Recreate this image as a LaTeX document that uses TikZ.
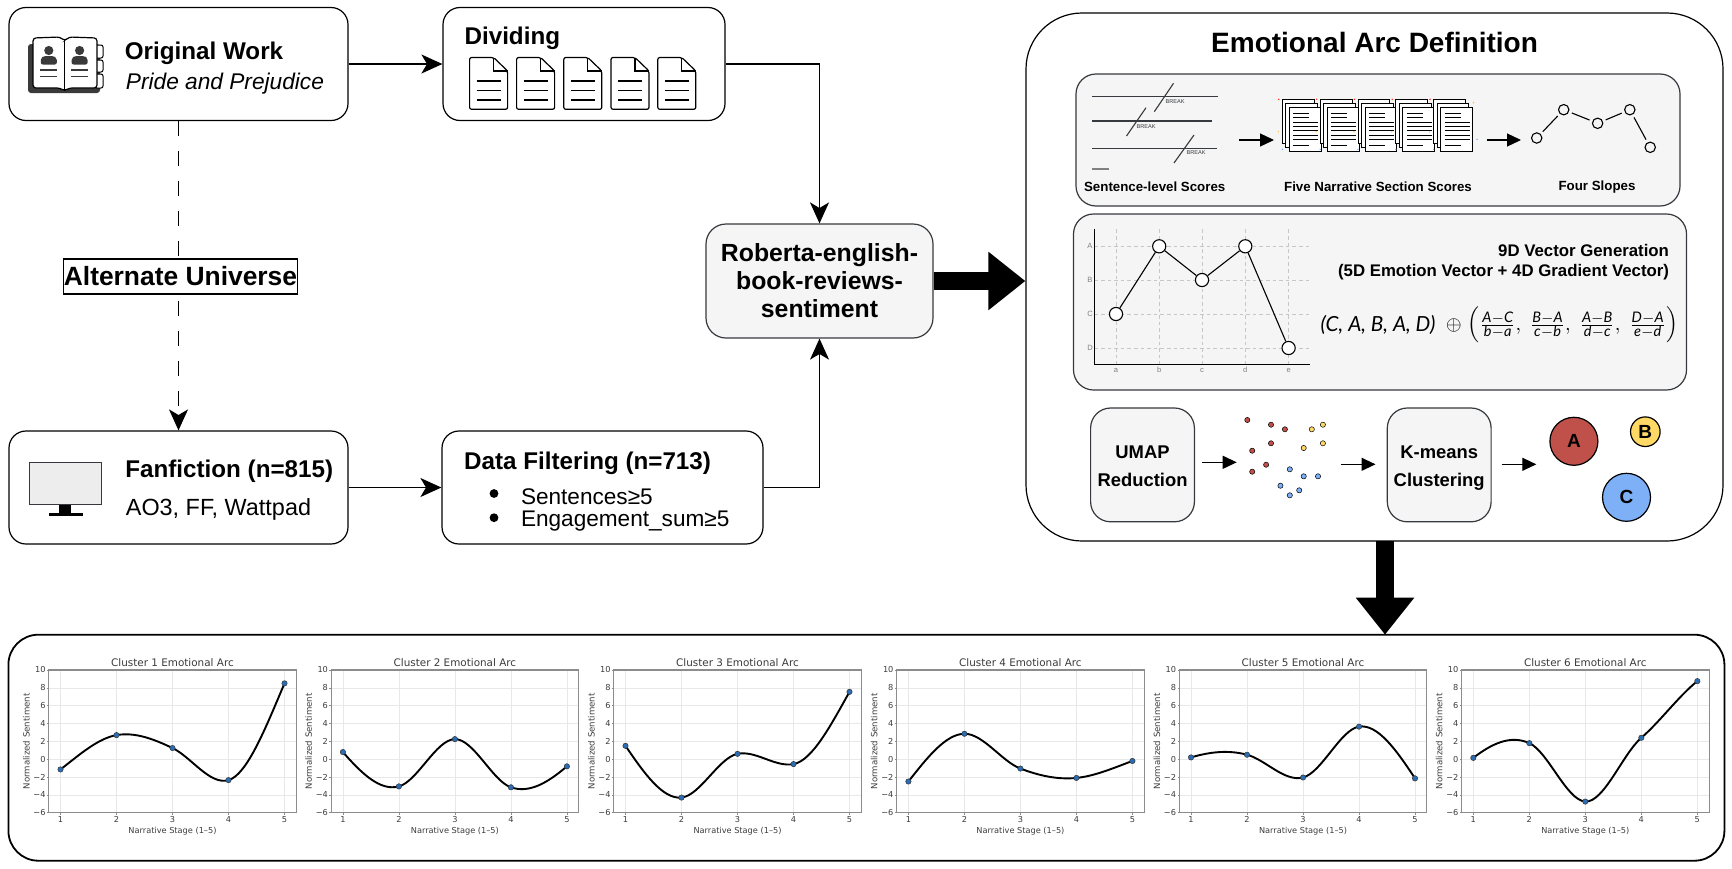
\documentclass[tikz,border=0pt]{standalone}
\usepackage{amsmath}
\usepackage{fontspec}
\usepackage{xcolor}
\usetikzlibrary{arrows.meta,positioning}
\setmainfont{Liberation Sans}
\newfontfamily\plotfont{DejaVu Sans}
\newfontfamily\formulafont{Lato}
\definecolor{boxfill}{HTML}{F5F5F5}
\definecolor{boxstroke}{HTML}{36393D}
\definecolor{icondark}{HTML}{3A3A3A}
\definecolor{spine}{HTML}{8C8C8C}
\definecolor{gridline}{HTML}{E8E8E8}
\definecolor{plottxt}{HTML}{3C3C3C}
\definecolor{markblue}{HTML}{2A6DB5}
\definecolor{clusterA}{HTML}{C0504A}
\definecolor{clusterB}{HTML}{FFD966}
\definecolor{clusterC}{HTML}{7EB0F8}
\newcommand{\fs}[1]{\fontsize{#1}{1.16\dimexpr#1pt\relax}\selectfont}
\newcommand{\mv}[1]{\text{\formulafont\itshape #1}}

% one small plot: number, x of stage 1, values at the five stages
\newcommand{\arcpanel}[7]{
  \pgfmathsetmacro{\ea}{1.5*((#4)-(#3))}
  \pgfmathsetmacro{\eb}{(3*((#5)-(#3))-\ea)/3.5}
  \pgfmathsetmacro{\ec}{(3*((#6)-(#4))-\eb)*0.269231}
  \pgfmathsetmacro{\ed}{(3*((#7)-(#5))-\ec)*0.268041}
  \pgfmathsetmacro{\tge}{(3*((#7)-(#6))-\ed)/1.731959}
  \pgfmathsetmacro{\tgd}{\ed-0.268041*\tge}
  \pgfmathsetmacro{\tgc}{\ec-0.269231*\tgd}
  \pgfmathsetmacro{\tgb}{\eb-0.285714*\tgc}
  \pgfmathsetmacro{\tga}{\ea-0.5*\tgb}
  % flatter through the inner stages
  \pgfmathsetmacro{\tgb}{0.6*\tgb}
  \pgfmathsetmacro{\tgc}{0.6*\tgc}
  \pgfmathsetmacro{\tgd}{0.6*\tgd}
  \begin{scope}[shift={(#2-56,759.18)}, x=28pt, y=4.46pt]
    \foreach \s in {1,...,5} {
      \draw[gridln] (\s,-6) -- (\s,10);
      \draw[tickln] (\s,-6) -- (\s,-6.25);
      \node[ticktxt] (xt#1\s) at (\s,-6.75) {\s};
    }
    \foreach \v/\t in {-6/−6,-4/−4,-2/−2,0/0,2/2,4/4,6/6,8/8,10/10} {
      \draw[gridln] (0.79,\v) -- (5.21,\v);
      \draw[tickln] (0.79,\v) -- (0.76,\v);
      \node[ticktxt, anchor=east] (yt#1\t) at (0.74,\v) {\t};
    }
    \draw[spineln] (0.79,-6) rectangle (5.21,10);
    \node[plottitle] (title#1) at (3,10.86) {Cluster #1 Emotional Arc};
    \node[axistxt, font=\plotfont\fs{4.1}] (xlab#1) at (3,-8.05) {Narrative Stage (1–5)};
    \node[axistxt, rotate=90] (ylab#1) at (0.39,2) {Normalized Sentiment};
    \draw[arcline] (1,#3)
      .. controls ({1+1/3},{(#3)+\tga/3}) and ({2-1/3},{(#4)-\tgb/3}) .. (2,#4)
      .. controls ({2+1/3},{(#4)+\tgb/3}) and ({3-1/3},{(#5)-\tgc/3}) .. (3,#5)
      .. controls ({3+1/3},{(#5)+\tgc/3}) and ({4-1/3},{(#6)-\tgd/3}) .. (4,#6)
      .. controls ({4+1/3},{(#6)+\tgd/3}) and ({5-1/3},{(#7)-\tge/3}) .. (5,#7);
    \foreach \s/\v in {1/#3,2/#4,3/#5,4/#6,5/#7}
      \draw[arcdot] (\s,\v) circle (1.35pt);
  \end{scope}
}

\begin{document}
\begin{tikzpicture}[
  x=0.5pt, y=-0.5pt,
  box/.style={draw=black, line width=0.6pt, rounded corners=8.5pt, fill=white},
  greybox/.style={draw=boxstroke, line width=0.6pt, rounded corners=10pt, fill=boxfill},
  headtxt/.style={font=\bfseries\fs{12.1}, inner sep=0pt, anchor=west},
  plaintxt/.style={font=\fs{11.7}, inner sep=0pt, anchor=west},
  stagetxt/.style={font=\bfseries\fs{9.2}, inner sep=0pt, align=center, yshift=-2.2pt},
  captxt/.style={font=\bfseries\fs{6.65}, inner sep=0pt},
  breaktxt/.style={font=\fs{2.8}, inner sep=0pt, text=boxstroke},
  chartlab/.style={font=\fs{3.8}, inner sep=0pt, text=gray},
  levelgrid/.style={draw=black!22, line width=0.35pt, dash pattern=on 1.8pt off 1.5pt},
  arrow/.style={-{Stealth[length=10.5pt,width=9.5pt,inset=2.8pt]}, line width=0.7pt},
  smallarrow/.style={-{Triangle[length=7pt,width=6.5pt]}, line width=0.6pt},
  bigarrow/.style={-{Triangle[length=18.5pt,width=28pt]}, line width=8.7pt},
  ptsmall/.style={circle, draw=black, line width=0.55pt, minimum size=5.2pt, inner sep=0pt},
  ptbig/.style={circle, draw=black, line width=0.55pt, fill=white, minimum size=6.6pt, inner sep=0pt},
  scatterdot/.style={draw=black, line width=0.25pt},
  clusternode/.style={circle, draw=black, line width=0.6pt, inner sep=0pt, font=\bfseries\fs{9.5}},
  formulatxt/.style={font=\fs{10.4}, inner sep=0pt},
  gridln/.style={draw=gridline, line width=0.3pt},
  tickln/.style={draw=spine, line width=0.25pt},
  spineln/.style={draw=spine, line width=0.55pt},
  ticktxt/.style={font=\plotfont\fs{4.1}, inner sep=0pt, text=plottxt},
  axistxt/.style={font=\plotfont\fs{4.3}, inner sep=0pt, text=plottxt},
  plottitle/.style={font=\plotfont\fs{5.2}, inner sep=0pt, text=plottxt},
  arcline/.style={draw=black, line width=0.95pt},
  arcdot/.style={draw=black!80, fill=markblue, line width=0.25pt}
]
  \useasboundingbox (0,0) rectangle (1732,868);

  % Left pipeline
  \node[box, minimum width=169.5pt, minimum height=56.5pt] (orig) at (178.5,64) {};
  \node[box, minimum width=141pt, minimum height=56.5pt] (dividing) at (584,64) {};
  \node[box, minimum width=169.5pt, minimum height=56.5pt] (fan) at (178.5,487.5) {};
  \node[box, minimum width=160.5pt, minimum height=56.5pt] (filter) at (602.5,487.5) {};
  \node[greybox, minimum width=113.5pt, minimum height=57pt, align=center,
    font=\bfseries\fs{12.4}] (roberta) at (819.5,281)
    {Roberta-english-\\[-0.4pt]book-reviews-\\[-0.4pt]sentiment};

  \node[headtxt] (origtxt) at (124.5,53) {Original Work};
  \node[plaintxt, font=\itshape\fs{11.35}] (pridetxt) at (125.5,83.5) {Pride and Prejudice};
  \node[headtxt] (divtxt) at (464.2,38) {Dividing};
  \node[headtxt] (fantxt) at (125,471.5) {Fanfiction (n=815)};
  \node[plaintxt] (sitetxt) at (125.5,509.5) {AO3, FF, Wattpad};
  \node[headtxt] (filttxt) at (463.8,463) {Data Filtering (n=713)};
  \fill (494,493.5) circle (2.2pt);
  \fill (494,517.7) circle (2.2pt);
  \node[plaintxt, font=\fs{11.3}] (senttxt) at (520.6,497) {Sentences≥5};
  \node[plaintxt, font=\fs{11.3}] (engtxt) at (520.6,521.5) {Engagement\_sum≥5};

  % Book icon
  \fill[icondark, rounded corners=1.5pt] (28,44) rectangle (100,93);
  \foreach \ty/\tb in {45/58,60/72,74/88}
    \draw[fill=white, line width=0.5pt, rounded corners=1pt] (95,\ty) rectangle (103,\tb);
  \draw[fill=white, line width=0.6pt, rounded corners=1.5pt]
    (33,38) -- (60,37) -- (64.7,41) -- (69,37) -- (97,38) -- (97,88) -- (69,88) -- (64.7,91) -- (60,88) -- (33,88) -- cycle;
  \draw[line width=0.5pt] (64.7,41) -- (64.7,91);
  \foreach \bx in {48.8,79.6} {
    \fill[icondark] (\bx,50.5) circle (2.3pt);
    \fill[icondark, rounded corners=1pt] (\bx-8,64.5) -- (\bx-8,58) -- (\bx-5,56) -- (\bx+5,56) -- (\bx+8,58) -- (\bx+8,64.5) -- cycle;
    \draw[icondark, line width=0.7pt] (\bx-8.5,70) -- (\bx+8.5,70);
    \draw[icondark, line width=0.7pt] (\bx-8.5,76.5) -- (\bx+8.5,76.5);
  }

  % Sheets in the dividing box
  \foreach \dx in {469.6,516.6,563.8,611,657.8} {
    \draw[line width=0.6pt, rounded corners=1pt, line join=round]
      (\dx,57.5) -- (\dx+24,57.5) -- (\dx+38,71) -- (\dx+38,109.3) -- (\dx,109.3) -- cycle;
    \draw[line width=0.6pt] (\dx+24,57.5) -- (\dx+24,71) -- (\dx+38,71);
    \foreach \ly in {81,90.5,100}
      \draw[line width=0.6pt] (\dx+7,\ly) -- (\dx+31,\ly);
  }

  % Monitor icon
  \draw[fill=black!7, draw=boxstroke, line width=0.5pt] (29.6,462.3) rectangle (101,504.3);
  \fill[black] (59,505) rectangle (71.4,513.5);
  \fill[black] (49,513.3) rectangle (82.6,516);

  % Main flow arrows
  \draw[arrow] (orig) -- (dividing);
  \draw[arrow] (fan) -- (filter);
  \draw[arrow] (dividing.east) -| (roberta.north);
  \draw[arrow] (filter.east) -| (roberta.south);
  \draw[arrow, dash pattern=on 7.5pt off 7.5pt] (orig.south) -- (fan.north);
  \node[draw=black, line width=0.6pt, fill=white, inner sep=0pt, minimum width=116.5pt,
    minimum height=17.5pt, font=\bfseries\fs{13.2}] (altu) at (180.5,276.5) {Alternate Universe};

  % Definition panel
  \node[box, rounded corners=28pt, minimum width=348.5pt, minimum height=264pt] (arc) at (1374.5,277) {};
  \node[font=\bfseries\fs{14}, inner sep=0pt] (arctitle) at (1374.5,42) {Emotional Arc Definition};
  \node[greybox, minimum width=302pt, minimum height=66pt] (boxscores) at (1378,140) {};
  \node[greybox, minimum width=306.5pt, minimum height=88pt] (boxvector) at (1380,302) {};
  \node[greybox, minimum width=51.9pt, minimum height=56.9pt] (umap) at (1142.5,464.9) {};
  \node[greybox, minimum width=51.9pt, minimum height=56.9pt] (kmeans) at (1439.2,464.9) {};
  \node[stagetxt] (umaptxt) at (umap) {UMAP\\[3.3pt]Reduction\strut};
  \node[stagetxt] (kmeanstxt) at (kmeans) {K-means\\[3.3pt]Clustering\strut};

  \draw[bigarrow] (roberta.east) -- (roberta.east -| arc.west);
  \coordinate (downtop) at (1385,541);
  \coordinate (downtip) at (1385,634.7);
  \draw[bigarrow] (downtop) -- (downtip);

  % Sentence lines
  \foreach \xb/\ly/\sxa/\sya/\sxb/\syb/\bx/\by/\bn in {
    1217.5/96.3/1173.5/83.3/1154.3/111.7/1175/102/a,
    1212/121/1146/107.7/1126.5/136/1146/126.7/b,
    1217/148.3/1194/135/1174/163/1196/153/c} {
    \draw[line width=0.55pt, draw=boxstroke] (1092,\ly) -- (\xb,\ly);
    \draw[line width=0.55pt, draw=boxstroke] (\sxa,\sya) -- (\sxb,\syb);
    \node[breaktxt] (brk\bn) at (\bx,\by) {BREAK};
  }
  \draw[line width=0.55pt, draw=gray] (1092,169) -- (1109,169);
  \node[captxt] (capsent) at (1154.7,187) {Sentence-level Scores};
  \node[captxt] (capsect) at (1378,187) {Five Narrative Section Scores};
  \node[captxt] (capslope) at (1597,187) {Four Slopes};

  % Stacks of sheets
  \foreach \k in {0,...,4} {
    \pgfmathsetmacro{\sx}{1289.4+37.8*\k}
    \foreach \off in {7,3.5,0}
      \draw[fill=white, line width=0.5pt] (\sx-\off,107.3-\off*1.14) rectangle ++(31.8,44.4);
    \foreach \ly/\ll in {113/16,117.5/16,122/25,126.3/25,130.6/25,135/25,139.3/25,145/16}
      \draw[line width=0.5pt] (\sx+4,\ly) -- ++(\ll,0);
    \fill[red!70!orange] (\sx-10.6,99.3) circle (0.4pt);
    \fill[clusterB!80!orange] (\sx-11,131.7) circle (0.4pt);
    \fill[clusterC] (\sx-7,149.3) circle (0.4pt);
  }
  \fill[clusterB!80!orange] (1473.5,102.7) circle (0.5pt);
  \fill[clusterC] (1477,139.3) circle (0.4pt);

  % Four slopes
  \node[ptsmall] (sa) at (1536.7,138) {};
  \node[ptsmall] (sb) at (1563.7,109.7) {};
  \node[ptsmall] (sc) at (1597.6,123.3) {};
  \node[ptsmall] (sd) at (1629.8,109.7) {};
  \node[ptsmall] (se) at (1650.2,147.3) {};
  \draw[line width=0.55pt, shorten <=1.5pt, shorten >=1.5pt] (sa) -- (sb);
  \draw[line width=0.55pt, shorten <=1.5pt, shorten >=1.5pt] (sb) -- (sc);
  \draw[line width=0.55pt, shorten <=1.5pt, shorten >=1.5pt] (sc) -- (sd);
  \draw[line width=0.55pt, shorten <=1.5pt, shorten >=1.5pt] (sd) -- (se);

  \coordinate (scoresout) at (1239,140);
  \coordinate (scoresin) at (1274,140);
  \coordinate (slopesout) at (1486.5,140);
  \coordinate (slopesin) at (1521,140);
  \draw[smallarrow] (scoresout) -- (scoresin);
  \draw[smallarrow] (slopesout) -- (slopesin);

  % Level chart
  \foreach \gx/\gl in {1116/a,1159.2/b,1202/c,1245.3/d,1288.6/e} {
    \draw[levelgrid] (\gx,229.3) -- (\gx,364.3);
    \node[chartlab] (lab\gl) at (\gx,370) {\gl};
  }
  \foreach \gy/\gl in {246.3/A,280/B,314/C,348/D} {
    \draw[levelgrid] (1094.3,\gy) -- (1309,\gy);
    \node[chartlab] (lab\gl) at (1090,\gy) {\gl};
  }
  \draw[line width=0.6pt] (1094.3,229.3) -- (1094.3,364.3) -- (1310,364.3);
  \node[ptbig] (pa) at (1116,314) {};
  \node[ptbig] (pb) at (1159.2,246.3) {};
  \node[ptbig] (pc) at (1202,280) {};
  \node[ptbig] (pd) at (1245.3,246.3) {};
  \node[ptbig] (pe) at (1288.6,348) {};
  \draw[line width=0.55pt] (pa) -- (pb);
  \draw[line width=0.55pt] (pb) -- (pc);
  \draw[line width=0.55pt] (pc) -- (pd);
  \draw[line width=0.55pt] (pd) -- (pe);

  \node[font=\bfseries\fs{8.4}, inner sep=0pt, anchor=east] (vectxta) at (1669.4,250.5) {9D Vector Generation};
  \node[font=\bfseries\fs{8.4}, inner sep=0pt, anchor=east] (vectxtb) at (1669.4,272.5) {(5D Emotion Vector + 4D Gradient Vector)};
  \node[formulatxt] (tuple) at (1378,325) {$\mv{(C, A, B, A, D)}$};
  \node[formulatxt] (plus) at (1454,325) {$\oplus$};
  \node[formulatxt] (slopes) at (1573,325) {$\left(\frac{\mv{A}-\mv{C}}{\mv{b}-\mv{a}},\;\frac{\mv{B}-\mv{A}}{\mv{c}-\mv{b}},\;
    \frac{\mv{A}-\mv{B}}{\mv{d}-\mv{c}},\;\frac{\mv{D}-\mv{A}}{\mv{e}-\mv{d}}\right)$};

  % Scatter and clusters
  \foreach \cx/\cy in {1247.3/420,1271/424.7,1284.9/429.3,1271/443.3,1252.2/450.7,1266.1/464.7,1252.2/471.7}
    \draw[scatterdot, fill=clusterA] (\cx,\cy) circle (1.3pt);
  \foreach \cx/\cy in {1322.9/424.7,1311.8/429.3,1322.9/443.3,1303.7/448}
    \draw[scatterdot, fill=clusterB] (\cx,\cy) circle (1.3pt);
  \foreach \cx/\cy in {1289.8/469.3,1303.7/476.3,1318/476.3,1280.4/485.7,1299.2/490.3,1289.8/495.3}
    \draw[scatterdot, fill=clusterC] (\cx,\cy) circle (1.3pt);
  \node[clusternode, fill=clusterA, minimum size=24pt] (cla) at (1573.9,441.3) {A};
  \node[clusternode, fill=clusterB, minimum size=14.8pt] (clb) at (1645.3,431.7) {B};
  \node[clusternode, fill=clusterC, minimum size=24pt] (clc) at (1626.5,497.3) {C};

  \coordinate (umapout) at (1202,462.3);
  \coordinate (dotsin) at (1236.7,462.3);
  \coordinate (dotsout) at (1340.8,464.3);
  \coordinate (kmeansin) at (1375.5,464.3);
  \coordinate (kmeansout) at (1501.6,464.3);
  \coordinate (clusin) at (1536.3,464.3);
  \draw[smallarrow] (umapout) -- (dotsin);
  \draw[smallarrow] (dotsout) -- (kmeansin);
  \draw[smallarrow] (kmeansout) -- (clusin);

  % Bottom plots
  \node[box, line width=0.9pt, rounded corners=15pt, minimum width=858pt, minimum height=113pt] (plots) at (866.4,747.7) {};
  \foreach \n/\px/\va/\vb/\vc/\vd/\ve in {
    1/60.5/-1.15/2.7/1.25/-2.35/8.5,
    2/342.9/0.8/-3.05/2.25/-3.15/-0.8,
    3/625.5/1.5/-4.3/0.6/-0.55/7.55,
    4/908.4/-2.5/2.85/-1.05/-2.1/-0.2,
    5/1191/0.2/0.5/-2.05/3.65/-2.15,
    6/1473.3/0.15/1.8/-4.75/2.4/8.75}
    \arcpanel{\n}{\px}{\va}{\vb}{\vc}{\vd}{\ve};
\end{tikzpicture}
\end{document}
